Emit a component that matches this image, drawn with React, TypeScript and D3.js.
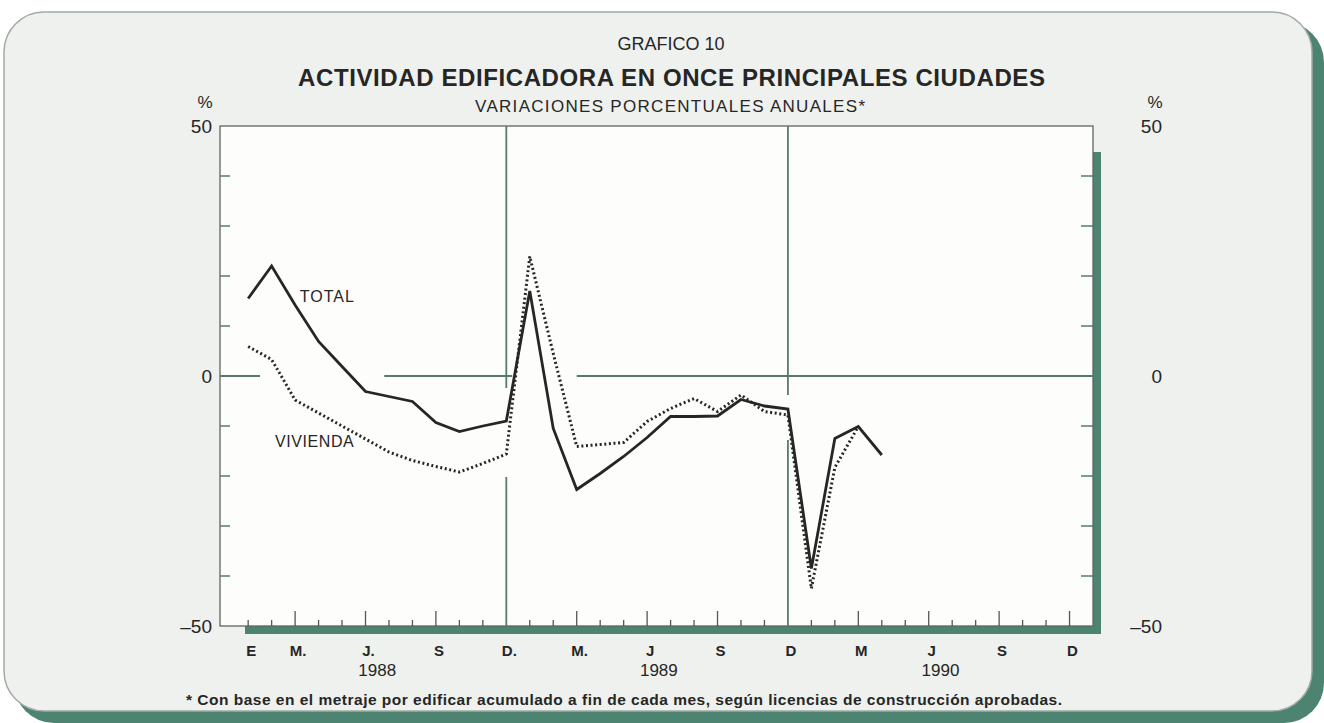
import React, { useEffect, useRef } from 'react';
import * as d3 from 'd3';

// month index: 0 = enero 1988
const total1988 = [15.5, 22, 14.2, 6.9, 1.9, -3.1, -4.1, -5.1, -9.3, -11.1, -10, -9];
const total1989 = [17, -10.5, -22.7, -19.5, -16.1, -12.3, -8.1, -8.1, -8, -4.7, -6, -6.6];
const total1990 = [-38.5, -12.5, -10.1, -15.8];

const vivienda1988 = [5.9, 3.3, -4.8, -7.4, -10, -12.6, -15.2, -16.9, -18.1, -19.2, -17.5, -15.6];
const vivienda1989 = [23.9, 4.5, -14.1, -13.7, -13.3, -9.1, -6.5, -4.5, -7.1, -3.8, -7.1, -7.8];
const vivienda1990 = [-42.5, -18.3, -10.1];

const tickMonths = [0, 2, 5, 8, 11, 14, 17, 20, 23, 26, 29, 32, 35];
const tickLabels = ['E', 'M.', 'J.', 'S', 'D.', 'M.', 'J', 'S', 'D', 'M', 'J', 'S', 'D'];
const yearLabels = ['1988', '1989', '1990'];
const yTicks = [-40, -30, -20, -10, 0, 10, 20, 30, 40];
const yLabels = [50, 0, -50];

// months where the reference lines are interrupted
const zeroSegments = [[-1.2, 0.5], [5.8, 11.25], [14.0, 36]];
const decLines = [
  { m: 11, gaps: [[-2.4, -20.2]] },
  { m: 23, gaps: [[-3.8, -12.8]] },
];

const GRID = '#58796f';
const GREEN = '#4d8371';
const INK = '#262626';
const FONT = '"Liberation Sans", Arial, Helvetica, sans-serif';

const Chart: React.FC = () => {
  const ref = useRef<SVGSVGElement>(null);

  useEffect(() => {
    if (!ref.current) return;
    const svg = d3.select(ref.current);
    svg.selectAll('*').remove();

    const W = 1324, H = 723;
    const plot = { left: 220, right: 1093, top: 126, bottom: 626 };

    const x = d3.scaleLinear().domain([-1.2, 36]).range([plot.left, plot.right]);
    const y = d3.scaleLinear().domain([-50, 50]).range([plot.bottom, plot.top]);

    svg.attr('width', W).attr('height', H);

    // panel with green shadow
    svg.append('rect')
      .attr('x', 14).attr('y', 22).attr('width', 1310).attr('height', 701)
      .attr('rx', 40).attr('fill', GREEN);
    svg.append('rect')
      .attr('x', 4).attr('y', 12).attr('width', 1308).attr('height', 699)
      .attr('rx', 40).attr('fill', '#eef1ed').attr('stroke', '#a3aaa6').attr('stroke-width', 1.5);

    // plot box with shadow
    svg.append('rect')
      .attr('x', 245).attr('y', 152)
      .attr('width', plot.right + 8 - 245).attr('height', plot.bottom + 8 - 152)
      .attr('fill', GREEN);
    svg.append('rect')
      .attr('x', plot.left).attr('y', plot.top)
      .attr('width', plot.right - plot.left).attr('height', plot.bottom - plot.top)
      .attr('fill', '#fdfdfb').attr('stroke', '#5e6662').attr('stroke-width', 1.3);

    const g = svg.append('g');

    // zero line
    zeroSegments.forEach(([a, b]) => {
      g.append('line')
        .attr('x1', x(a)).attr('x2', x(b)).attr('y1', y(0)).attr('y2', y(0))
        .attr('stroke', GRID).attr('stroke-width', 2);
    });

    // december separators
    decLines.forEach(d => {
      const stops = [50, ...d.gaps.flat(), -50];
      for (let i = 0; i < stops.length; i += 2) {
        g.append('line')
          .attr('x1', x(d.m)).attr('x2', x(d.m))
          .attr('y1', y(stops[i])).attr('y2', y(stops[i + 1]))
          .attr('stroke', GRID).attr('stroke-width', 1.8);
      }
    });

    // y ticks both sides
    yTicks.forEach(v => {
      g.append('line').attr('x1', plot.left).attr('x2', plot.left + 10)
        .attr('y1', y(v)).attr('y2', y(v)).attr('stroke', GRID).attr('stroke-width', 1.5);
      g.append('line').attr('x1', plot.right).attr('x2', plot.right - 12)
        .attr('y1', y(v)).attr('y2', y(v)).attr('stroke', GRID).attr('stroke-width', 1.5);
    });

    // month ticks
    d3.range(0, 36).forEach(m => {
      if (m === 11 || m === 23) return;
      const tall = m % 3 === 2;
      g.append('line')
        .attr('x1', x(m)).attr('x2', x(m))
        .attr('y1', plot.bottom).attr('y2', plot.bottom - (tall ? 15 : 6))
        .attr('stroke', '#555').attr('stroke-width', 1.3);
    });

    // series
    const total = [...total1988, ...total1989, ...total1990];
    const vivienda = [...vivienda1988, ...vivienda1989, ...vivienda1990];
    const line = d3.line<number>().x((_, i) => x(i)).y(d => y(d));

    g.append('path').datum(vivienda)
      .attr('fill', 'none').attr('stroke', INK).attr('stroke-width', 3)
      .attr('stroke-dasharray', '2 2.6').attr('d', line);
    g.append('path').datum(total)
      .attr('fill', 'none').attr('stroke', INK).attr('stroke-width', 2.8)
      .attr('stroke-linejoin', 'miter').attr('d', line);

    // series labels
    g.append('text').text('TOTAL')
      .attr('x', x(2.2)).attr('y', y(16)).attr('dy', '0.35em')
      .attr('font-size', 16).attr('letter-spacing', 1).attr('fill', INK).attr('font-family', FONT);
    g.append('text').text('VIVIENDA')
      .attr('x', x(1.14)).attr('y', y(-13)).attr('dy', '0.35em')
      .attr('font-size', 16).attr('letter-spacing', 0.6).attr('fill', INK).attr('font-family', FONT);

    // x labels
    tickMonths.forEach((m, i) => {
      svg.append('text').text(tickLabels[i])
        .attr('x', x(m) + 3).attr('y', 656).attr('text-anchor', 'middle')
        .attr('font-size', 15).attr('font-weight', 'bold').attr('fill', INK).attr('font-family', FONT);
    });
    yearLabels.forEach((t, i) => {
      svg.append('text').text(t)
        .attr('x', x(5.5 + 12 * i)).attr('y', 676).attr('text-anchor', 'middle')
        .attr('font-size', 17).attr('fill', INK).attr('font-family', FONT);
    });

    // y labels
    yLabels.forEach(v => {
      const t = v < 0 ? `–${-v}` : `${v}`;
      svg.append('text').text(t)
        .attr('x', 212).attr('y', y(v)).attr('dy', '0.36em').attr('text-anchor', 'end')
        .attr('font-size', 19).attr('fill', INK).attr('font-family', FONT);
      svg.append('text').text(t)
        .attr('x', 1162).attr('y', y(v)).attr('dy', '0.36em').attr('text-anchor', 'end')
        .attr('font-size', 19).attr('fill', INK).attr('font-family', FONT);
    });
    svg.append('text').text('%').attr('x', 205).attr('y', 108).attr('text-anchor', 'middle')
      .attr('font-size', 17).attr('fill', INK).attr('font-family', FONT);
    svg.append('text').text('%').attr('x', 1155).attr('y', 108).attr('text-anchor', 'middle')
      .attr('font-size', 17).attr('fill', INK).attr('font-family', FONT);

    // titles
    svg.append('text').text('GRAFICO 10')
      .attr('x', 671).attr('y', 50).attr('text-anchor', 'middle')
      .attr('font-size', 18).attr('fill', INK).attr('font-family', FONT);
    svg.append('text').text('ACTIVIDAD EDIFICADORA EN ONCE PRINCIPALES CIUDADES')
      .attr('x', 298).attr('y', 86).attr('textLength', 747)
      .attr('font-size', 24).attr('font-weight', 'bold').attr('fill', INK).attr('font-family', FONT);
    svg.append('text').text('VARIACIONES PORCENTUALES ANUALES*')
      .attr('x', 475).attr('y', 112).attr('textLength', 390)
      .attr('font-size', 17).attr('fill', INK).attr('font-family', FONT);
    svg.append('text')
      .text('* Con base en el metraje por edificar acumulado a fin de cada mes, según licencias de construcción aprobadas.')
      .attr('x', 186).attr('y', 705).attr('textLength', 876)
      .attr('font-size', 15.5).attr('font-weight', 'bold').attr('fill', INK).attr('font-family', FONT);
  }, []);

  return <svg ref={ref} style={{ position: 'absolute', left: 0, top: 0, display: 'block' }} />;
};

export default function App() {
  return <Chart />;
}
